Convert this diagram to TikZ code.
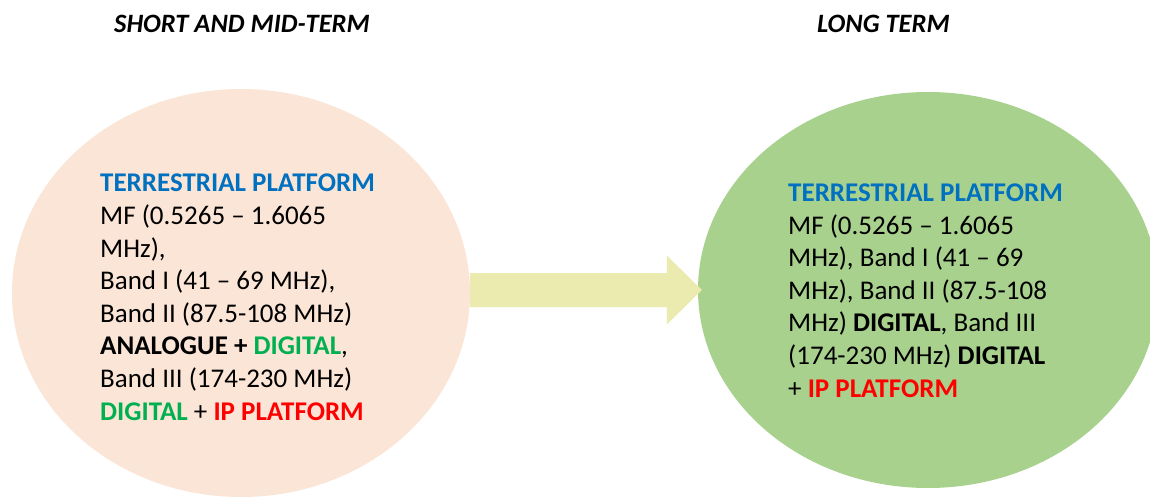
\documentclass[tikz,border=0pt]{standalone}
\usepackage{fontspec}
\setmainfont{Carlito}
\usetikzlibrary{shapes.geometric,calc}
\definecolor{pinkfill}{HTML}{FBE5D6}
\definecolor{greenfill}{HTML}{A9D18E}
\definecolor{arrowfill}{HTML}{EBEBAF}
\definecolor{tblue}{HTML}{0070C0}
\definecolor{tgreen}{HTML}{00B050}
\definecolor{tred}{HTML}{FF0000}
\begin{document}
\begin{tikzpicture}[x=1pt,y=-1pt,
  blob/.style={ellipse,draw=none,inner sep=0pt},
  bodytext/.style={align=left,inner sep=0pt,anchor=base west,font=\fontsize{27}{32.6}\selectfont},
  title/.style={inner sep=0pt,anchor=base west,font=\fontsize{26.5}{30}\selectfont\bfseries\itshape}]
\useasboundingbox (0,0) rectangle (1150,500);
\clip (0,0) rectangle (1150,500);
\fill[white] (0,0) rectangle (1150,500);
\node[blob,fill=pinkfill,minimum width=458pt,minimum height=408pt] (L) at (241,293) {};
\node[blob,fill=greenfill,minimum width=460pt,minimum height=396pt] (R) at (928,290) {};
\coordinate (tip) at ($(R.west)+(4,0)$);
\coordinate (tail) at (L.east |- tip);
\fill[arrowfill] ($(tail)+(0,-17)$) -- ($(tip)+(-35,-17)$) -- ($(tip)+(-35,-34.5)$) -- (tip)
  -- ($(tip)+(-35,34.5)$) -- ($(tip)+(-35,17)$) -- ($(tail)+(0,17)$) -- cycle;
\node[title] (t1) at (114,33) {SHORT AND MID-TERM};
\node[title] (t2) at (817,33) {LONG TERM};
\node[bodytext] (lt) at (100,420) {\textcolor{tblue}{\bfseries TERRESTRIAL PLATFORM}\\
MF (0.5265 -- 1.6065\\
MHz),\\
Band I (41 -- 69 MHz),\\
Band II (87.5-108 MHz)\\
\textbf{ANALOGUE + \textcolor{tgreen}{DIGITAL}},\\
Band III (174-230 MHz)\\
\textcolor{tgreen}{\bfseries DIGITAL} + \textcolor{tred}{\bfseries IP PLATFORM}};
\node[bodytext] (rt) at (788,397) {\textcolor{tblue}{\bfseries TERRESTRIAL PLATFORM}\\
MF (0.5265 -- 1.6065\\
MHz), Band I (41 -- 69\\
MHz), Band II (87.5-108\\
MHz) \textbf{DIGITAL}, Band III\\
(174-230 MHz) \textbf{DIGITAL}\\
+ \textcolor{tred}{\bfseries IP PLATFORM}};
\end{tikzpicture}
\end{document}
